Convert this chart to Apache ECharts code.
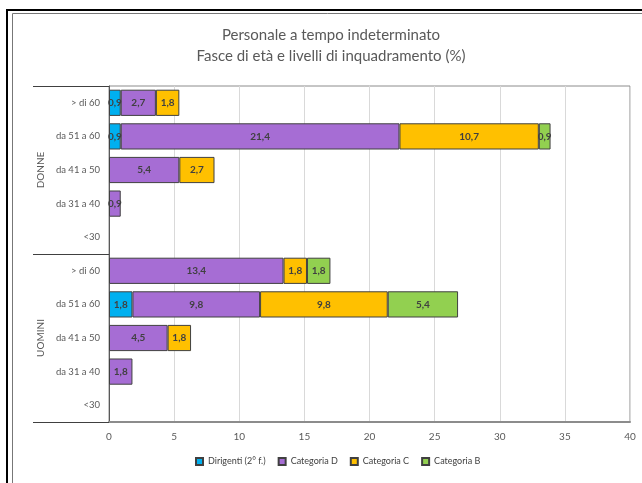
<!DOCTYPE html>
<html>
<head>
<meta charset="utf-8">
<script src="https://cdn.jsdelivr.net/npm/echarts@6/dist/echarts.min.js"></script>
<style>html,body{margin:0;padding:0;background:#fff;}#c{width:642px;height:483px;}</style>
</head>
<body>
<div id="c"></div>
<script>
var ageLabels = ['> di 60', 'da 51 a 60', 'da 41 a 50', 'da 31 a 40', '<30',
                 '> di 60', 'da 51 a 60', 'da 41 a 50', 'da 31 a 40', '<30'];
var groups = ['DONNE', 'UOMINI'];
var seriesNames = ['Dirigenti (2° f.)', 'Categoria D', 'Categoria C', 'Categoria B'];
var dirigenti  = [0.9, 0.9, null, null, null,  null, 1.8, null, null, null];
var categoriaD = [2.7, 21.4, 5.4, 0.9, null,   13.4, 9.8, 4.5, 1.8, null];
var categoriaC = [1.8, 10.7, 2.7, null, null,  1.8, 9.8, 1.8, null, null];
var categoriaB = [null, 0.9, null, null, null, 1.8, 5.4, null, null, null];
var xTicks = [0, 5, 10, 15, 20, 25, 30, 35, 40];

var colors = ['#00B0F0', '#A66DD4', '#FFC000', '#92D050'];
var font = 'Lato, "Open Sans", sans-serif';
var chart = echarts.init(document.getElementById('c'), null, {renderer: 'canvas'});

function mk(name, data, color) {
  return {
    name: name, type: 'bar', stack: 'tot', data: data,
    barCategoryGap: '22%',
    itemStyle: {color: color, borderColor: '#404040', borderWidth: 1},
    label: {
      show: true, position: 'inside', color: '#404040', fontSize: 10, fontWeight: 'bold', fontFamily: font,
      formatter: function (p) { return p.value == null ? '' : String(p.value).replace('.', ','); }
    },
    emphasis: {disabled: true}
  };
}

chart.setOption({
  animation: false,
  backgroundColor: '#fff',
  textStyle: {fontFamily: font},
  title: {
    text: 'Personale a tempo indeterminato\nFasce di età e livelli di inquadramento (%)',
    left: 326, textAlign: 'center', top: 20,
    textStyle: {fontSize: 15, fontWeight: 'normal', color: '#595959', lineHeight: 21, fontFamily: font}
  },
  legend: {
    bottom: 12, left: 190, itemWidth: 7, itemHeight: 7, itemGap: 12, icon: 'rect',
    textStyle: {fontSize: 9, color: '#404040', fontFamily: font},
    data: seriesNames
  },
  grid: {left: 109, right: 12, top: 86, bottom: 61, show: true, borderColor: '#8c8c8c', borderWidth: 1, containLabel: false},
  xAxis: {
    type: 'value', min: xTicks[0], max: xTicks[xTicks.length - 1], interval: 5,
    axisLine: {show: true, lineStyle: {color: '#8c8c8c', width: 2}},
    axisTick: {show: false},
    axisLabel: {color: '#595959', fontSize: 10, margin: 10, fontFamily: font},
    splitLine: {show: true, lineStyle: {color: '#d9d9d9', width: 1}}
  },
  yAxis: [{
    type: 'category', inverse: true, data: ageLabels,
    axisLine: {show: true, lineStyle: {color: '#595959', width: 1}},
    axisTick: {show: false},
    axisLabel: {color: '#595959', fontSize: 9.5, margin: 9, fontFamily: font},
    splitLine: {show: false}
  }, {
    type: 'category', inverse: true, data: groups, position: 'left',
    axisLine: {show: false},
    axisTick: {show: true, length: 76, lineStyle: {color: '#404040', width: 1}},
    axisLabel: {color: '#595959', fontSize: 10, rotate: 90, margin: 63, fontFamily: font},
    splitLine: {show: false}
  }],
  series: [
    mk(seriesNames[0], dirigenti, colors[0]),
    mk(seriesNames[1], categoriaD, colors[1]),
    mk(seriesNames[2], categoriaC, colors[2]),
    mk(seriesNames[3], categoriaB, colors[3])
  ],
  graphic: [
    {type: 'line', shape: {x1: 7, y1: 10, x2: 7, y2: 483}, style: {stroke: '#000', lineWidth: 2}, silent: true},
    {type: 'line', shape: {x1: 6, y1: 10, x2: 642, y2: 10}, style: {stroke: '#000', lineWidth: 2}, silent: true},
    {type: 'line', shape: {x1: 12.5, y1: 13.5, x2: 12.5, y2: 483}, style: {stroke: '#777', lineWidth: 1}, silent: true},
    {type: 'line', shape: {x1: 12.5, y1: 13.5, x2: 642, y2: 13.5}, style: {stroke: '#777', lineWidth: 1}, silent: true}
  ]
});
</script>
</body>
</html>
